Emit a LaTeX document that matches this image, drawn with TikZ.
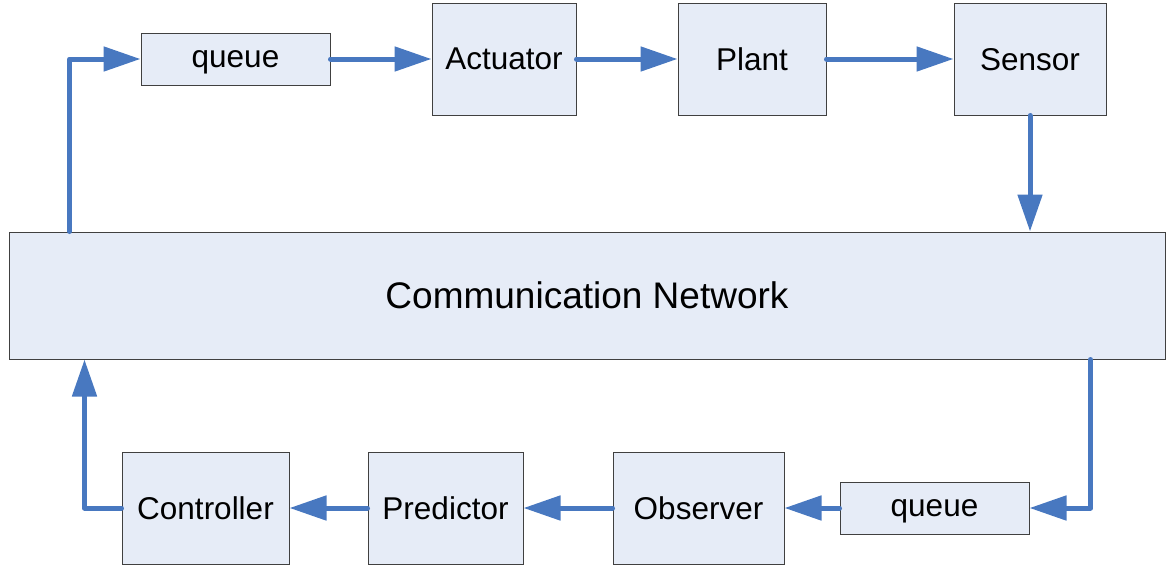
\documentclass[tikz,border=0pt]{standalone}
\usepackage{fontspec}
\setmainfont{Liberation Sans}
\usetikzlibrary{arrows.meta}
\definecolor{boxfill}{HTML}{E6ECF7}
\definecolor{boxline}{HTML}{404040}
\definecolor{flow}{HTML}{4878C0}
\tikzset{
  block/.style={draw=boxline, line width=1pt, fill=boxfill, inner sep=0pt,
    text depth=0pt, font=\fontsize{31.5}{36}\selectfont},
  bigblock/.style={block, font=\fontsize{37}{42}\selectfont},
  link/.style={draw=flow, line width=5pt, line cap=round, line join=round,
    -{Triangle[length=37pt,width=24pt]}}
}
\begin{document}
\begin{tikzpicture}[x=1pt,y=-1pt]
\useasboundingbox (0,0) rectangle (1168,568);

% top row
\node[block, minimum width=189pt, minimum height=52pt]  (q1)     at (235.5,59) {queue};
\node[block, minimum width=144pt, minimum height=112pt] (act)    at (504,59)   {Actuator};
\node[block, minimum width=148pt, minimum height=112pt] (plant)  at (752,59)   {Plant};
\node[block, minimum width=152pt, minimum height=112pt] (sensor) at (1030,59)  {Sensor};

% network
\node[bigblock, minimum width=1156pt, minimum height=127pt] (net) at (587,295.5) {Communication Network};

% bottom row
\node[block, minimum width=167pt, minimum height=112pt] (ctrl) at (205.5,508) {Controller};
\node[block, minimum width=155pt, minimum height=112pt] (pred) at (445.5,508) {Predictor};
\node[block, minimum width=171pt, minimum height=112pt] (obs)  at (698.5,508) {Observer};
\node[block, minimum width=189pt, minimum height=52pt]  (q2)   at (934.5,508) {queue};

% forward path
\draw[link] ([xshift=61pt]net.north west) |- (q1.west);
\draw[link] (q1.east) -- (act.west);
\draw[link] (act.east) -- (plant.west);
\draw[link] (plant.east) -- (sensor.west);
\draw[link] (sensor.south) -- (sensor.south |- net.north);

% feedback path
\draw[link] ([xshift=-75pt]net.south east) |- (q2.east);
\draw[link] (q2.west) -- (obs.east);
\draw[link] (obs.west) -- (pred.east);
\draw[link] (pred.west) -- (ctrl.east);
\draw[link] (ctrl.west) -| ([xshift=76pt]net.south west);
\end{tikzpicture}
\end{document}
